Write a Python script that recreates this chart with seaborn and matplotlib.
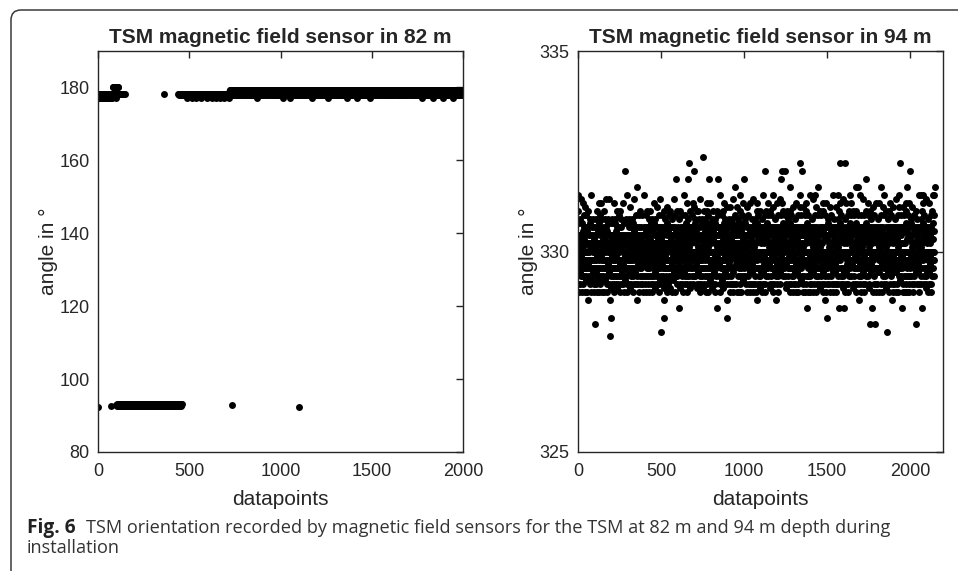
import numpy as np
import pandas as pd
import seaborn as sns
import matplotlib.pyplot as plt
from matplotlib.patches import FancyBboxPatch
from matplotlib.transforms import IdentityTransform

# angle readings are quantized, every datapoint is stored as one code letter
left_codes = "ABCDabcdeg"
left_levels = [92.4, 92.7, 93.0, 93.2, 177.0, 177.8, 178.3, 178.8, 179.3, 180.2]

right_codes = "abcdefghijklmnopqrstuvwxGHIJKLMNOPQR"
right_levels = [327.9, 328.0, 328.2, 328.35, 328.6, 328.8, 329.0, 329.2,
                329.4, 329.6, 329.8, 330.0, 330.2, 330.4, 330.6, 330.8,
                331.0, 331.2, 331.4, 331.6, 331.8, 332.0, 332.2, 332.35,
                329.1, 329.3, 329.5, 329.7, 329.9, 330.1, 330.3, 330.5,
                330.7, 330.9, 331.1, 331.3]

# sensor in 82 m, datapoints 0..1999 (100 per row)
left_rows = [
    ("Acacbccacb" "ccacbccbca" "cbccacccbc" "acbccacbcc" "bcaccbccac"
     "cbcacbccca" "ccbcacbccb" "Bcacbccacc" "bcgcgcbcgc" "cgcbgccgca"),
    ("gCcBgDcCgB" "cDgCcBcDCc" "BCcDCBcCDc" "CBDcCBDCcB" "DCBcCDBCcD"
     "CBDCBCDCBC" "DBCCDBCDCB" "CDBCCDCBCD" "BCCDCBDCCB" "CDCBCCDBCC"),
    ("DCBCCDCBCD" "CCBDCCDCBC" "CDBCCDCBCD" "CCBDCCDCBC" "CDBCCDCBCD"
     "BCCDCBDCCB" "CDCBCCDBCC" "DCBCCDCBCD" "CCBDCCDCBC" "CDBCCDCBCD"),
    ("BCCDCBDCCB" "CDCBCCDBCC" "DCBCCDCBCD" "CCBDCCDCBC" "CDBCCDCBCD"
     "BCCDCBDCCB" "CDcBCCDBCC" "DCBCCDCBCD" "CCBDCCDCBC" "CDBCCDCBCD"),
    ("BCCDCBDCCB" "CDCBCCDBCC" "DCBCCDCBCD" "CCBDCCDCBC" "cCbDcBcCcD"
     "bCcBcDcCbc" "Dcbccbcbcc" "bcbcccbccb" "cbccbcacbc" "cbcbccbcbc"),
    ("bccbcbccbc" "cbcbcacbcc" "bccbcbcbcc" "cbccbcbcca" "bcbccbcbcc"
     "cbcbccbcbc" "bccbcbcacb" "ccbcbccbcb" "cbcbccbcbc" "bccbcacbcc"),
    ("cbcbccbcbc" "bccbcbccbc" "cbcacbcbcc" "bcbccbcbcc" "cbccbcbcac"
     "bcbccbcbcc" "cbcbccbcbc" "acbccbcbcc" "bcbcbccbca" "cbccbcbcbc"),
    ("cbcbccbcbc" "bccbcbcacb" "dcedbcedcd" "ecdCedbdce" "dbecdcebdc"
     "edcbdecdce" "bdcedcbedc" "deccdbedec" "cdebdcedbd" "ecdbedcdec"),
    ("cedbdceced" "dcedbcedcd" "dbecdcebdc" "bdcedcbedc" "ecdbedbdce"
     "cdebdcedbd" "ecdbedcdea" "edcbdecdce" "dbcedecbde" "deccdbedec"),
    ("ecdbedbdce" "deccdbedec" "dcedbcedcd" "ecdbedcdec" "edcbdecdce"
     "cedbdceced" "dbecdcebdc" "dbcedecbde" "bdcedcbedc" "cdebdcedbd"),
    ("deccdbedec" "cdebdcadbd" "dbecdcebdc" "dcedbcedcd" "cedbdceced"
     "edabdecdce" "ecdbedbdce" "dbcedecbde" "ecdbedcdec" "bdcedcbedc"),
    ("Acedbcedcd" "edcbdecdce" "cdebdcedbd" "ecdbedbdce" "dbcedecbde"
     "deccdbedec" "cedbdceced" "eadbedcdec" "dbecdcebdc" "dcedbcedcd"),
    ("ecdbedcdec" "dbecdcebdc" "dbcedecbde" "bdcedcbedc" "dcedbcedcd"
     "ecdbedbdce" "deacdbedec" "cedbdceced" "edcbdecdce" "cdebdcedbd"),
    ("bdcedcbedc" "cedbdceced" "ecdbedbdce" "deccdbedec" "dbecdcebdc"
     "edcbdecdce" "dceabcedcd" "cdebdcedbd" "dbcedecbde" "dcedbcedcd"),
    ("dcedbcedcd" "ecdbedbace" "edcbdecdce" "ecdbedcdec" "bdcedcbedc"
     "dbcedecbde" "dbecdcebdc" "cedbdceced" "deccdbedec" "adebdcedbd"),
    ("dbecdcebdc" "cdebdcedbd" "dcedbcedcd" "cedbdceced" "deccdbedec"
     "ecdbedcdec" "ecdbedbdce" "bdcedcbedc" "dbcedecbde" "edcbdecdce"),
    ("dbcedecbde" "ecdbedbdce" "ecdbedcdec" "edcbdecdce" "cdebdcedbd"
     "dcedbcedcd" "bdcedcbedc" "deccdbedec" "dbecdcebdc" "cedbdceced"),
    ("deccdbedec" "edcbdecdce" "cedbdceced" "dbecdcebdc" "ecdbedcdec"
     "dbcedecbde" "dcedbcedcd" "bdceacbedc" "cdebdcedbd" "ecdbedbdce"),
    ("cdebdcedbd" "dcedbcedcd" "bdcedcbedc" "edcbdecace" "ecdbedbdce"
     "cedbdceced" "deccdbedec" "dbecdcebdc" "ecdbedcdec" "dbaedecbde"),
    ("edcbdecdce" "dbcedecbde" "dbecdcebdc" "dcedbcedcd" "cdebdceabd"
     "bdcedcbedc" "cedbdceced" "ecdbedbdce" "ecdbedcdec" "deccdbedec"),
]

# sensor in 94 m, datapoints 0..2149 (100 per row)
right_rows = [
    ("sqKhLmjOng" "kIlpMhjRKn" "ilOmgJkmrL" "hiNkjPolMi" "kgnQjlmHko"
     "iPljmNkgfo" "lqJmknHlij" "pOmkhLnjgi" "msoLkjHnmp" "lIokjMhlgn"),
    ("kjLcmoIhnk" "pLjgmKqiNo" "jlHmkrOigl" "nKjmPhlrKi" "moLgjNkplH"
     "iknMjoLgqk" "lHpjnMkiRo" "jLmkhNgiOl" "kpJmlInhRk" "afmLkjOniG"),
    ("dlKnjMhpOi" "kmLjgnrhlk" "jOmiLkpNhj" "mlKqiGonLj" "hkMnljPiok"
     "lgmJnkqLhi" "oMpkjLnImh" "kJlrnMgiOk" "lmjHvnKpli" "nKmjOlhsgk"),
    ("jnLmkIophL" "mkGjnlQkio" "lhMnjKpmLi" "kOjlgNmhRK" "nlImjKolPh"
     "jMkfnLiotk" "LmhJnkgPom" "kiLnjMqhlK" "oMjlKinPhg" "lKnmJosiLk"),
    ("mJlhKonPil" "kNgmLjqKoi" "hlMjnKpoLg" "jkMiqNlhOk" "lnJmgKpiLo"
     "mKjlNhrOki" "jLmkGnpIol" "nKhmJloQki" "lMjnKigPoh" "kLjmNoRHil"),
    ("bkMlnJhoPk" "jLmnKiqGlo" "dfKmjNlpHi" "mLkjOgnQlk" "hNjmLkiPom"
     "kLjnGmqHok" "lMikJnpLgo" "jKmlHnRIok" "mLjnKgoPil" "ukNmjLqhKi"),
    ("lMjnKoeIpl" "kJmlNhqGok" "mLjnKiPohL" "jKmlNgsIok" "lMhjNkPilO"
     "kJmLnigroh" "ulMjnKpLoi" "wkJmlNqhGo" "lKmjNiPolk" "jMlnKhrQio"),
    ("vlMjnKiOpl" "kJmlNhqGok" "nLkjMqIphL" "jMknLgoRik" "lhMjKnpOli"
     "kmLjnxGqoh" "lMjkNipOlg" "jKnmLhqrOi" "mLkjNgPoil" "ukNljMrHki"),
    ("lJmknOipGl" "kMjlNhqIok" "nJlmKgpOhl" "jmKinLqoeK" "lmJknuPilo"
     "kJnmLhgsok" "mLkjNiPolH" "jkMlnGqrOk" "lMhjKnpIlo" "kNjmLifQoh"),
    ("dlMjnKiOpl" "kJmLnhQgok" "lMjnKipOhm" "jKmlNgRIol" "mLhjKnPtlo"
     "kJnmLhgQok" "lJmkNipOlg" "jKnmLhqsOi" "mLkjNgPoil" "kJnlMorHki"),
    ("ulMjnKiOpl" "kJnLmhQgok" "mLjnKiPohl" "jKmlNgrIok" "lMhjKnpIlo"
     "kJnmLhgRok" "mLjkNipOlh" "jKmlNgqrOk" "flMhjKnPio" "lKnjMiGqoh"),
    ("lKjmNoIpgl" "kMjlNhsIok" "nJlmKgPohl" "vMkiNlqOjk" "lMjkNrPilo"
     "kJnmLhGqok" "mLkjNiPolh" "jKmLngQsok" "lMhjKnpIlo" "kNjmLifroh"),
    ("lJmkNoiPgl" "kMjLnhRIok" "nJlmKuPorL" "vMkiNlqOjk" "lMjknvPiLo"
     "kJnmLhGqok" "mLkjNipOlh" "jKmlNgqtOk" "lMhjKnPilo" "kNjmLigQoh"),
    ("mKjlNhoIpl" "lJnkMgrIok" "kMlnJhPogl" "jLkmNisQok" "wmHjlKnPio"
     "vkJmnLgQoh" "lJmkNiPlog" "kJlmNhqrOi" "elMkjNgPio" "kJnlMoshgi"),
    ("lKmjNhIopl" "jMknLgRIok" "mLjnKhPosl" "kJmlNgQiok" "lMhjKntPil"
     "jKnmLhGqok" "mLjkNiPolh" "kJmlNgqIro" "lMhkJnPilo" "fKnjMlgroh"),
    ("dlMjnKiOpl" "kJnLmhQgok" "mLkjNiPohl" "jKmlNgsIok" "lMhjKnpIlo"
     "kJnmLhgQok" "mLjkNipsLh" "jKmlNeqrOk" "wlMhjKnPio" "lKnjMiGRoh"),
    ("lKjmNeIpgl" "wMjlNhrIok" "nJlmKgPohl" "jMkiNlqOsk" "lMjkNrPilo"
     "kJnmLhGqok" "mLkjNiPolh" "jKmlNgqtOk" "lMhjKnPtlo" "kNjmLifsoh"),
    ("lJmkNoiPgl" "kMjLnhRIok" "nJlmKgPohl" "jMkiNlqOuk" "lMjkNrPilo"
     "kJnmLhGqok" "cMlkJnIpol" "ejKmlNgQok" "lMhjKnPilo" "cKnjMlgroh"),
    ("lKmjNhIopl" "jMknLgrIok" "mLjnKhPotl" "kJmlNgQiok" "lMhjKnsPil"
     "jKnmLhGqok" "bMljKnIpol" "kJmlNgqIro" "lMhkJnPilo" "fKnjMlgQoh"),
    ("mKjlNhoIpl" "lJnkMgRIok" "kMlnJhPogl" "jLkmNisQok" "wmHjlKnPio"
     "eKjmNlgQoh" "lJmkNiPlog" "kJlmNhqrOi" "tlMkjNgPio" "kJnlMorhgi"),
    ("vlMjnKiOpl" "kJnLmhQgok" "mLkjNiPohl" "jKmlNcqIok" "lMhjKnpIlo"
     "kJnmLhgsok" "mLjkNipsLh" "jKmlNeqrOk" "slMhjKnPio" "lKnjMiGRoh"),
    ("lKjmNoIpgl" "kMjlNhrIok" "nJlmKgPohl" "jMkiNlqOsk" "lMjsNkPilt"),
]

titles = ["TSM magnetic field sensor in 82 m", "TSM magnetic field sensor in 94 m"]
left_ylim, left_yticks = (80, 190), [80, 100, 120, 140, 160, 180]
right_ylim, right_yticks = (325, 335), [325, 330, 335]
left_xlim, right_xlim = (0, 2000), (0, 2200)
xticks = [0, 500, 1000, 1500, 2000]
caption_bold = "Fig. 6"
caption_text = "TSM orientation recorded by magnetic field sensors for the TSM at 82 m and 94 m depth during"
caption_text2 = "installation"


def decode(rows, codes, levels):
    lut = dict(zip(codes, levels))
    vals = [lut[ch] for ch in "".join(rows)]
    return pd.DataFrame({"datapoints": np.arange(len(vals)), "angle": vals})


left_df = decode(left_rows, left_codes, left_levels)
right_df = decode(right_rows, right_codes, right_levels)

sns.set_style("white")
plt.rcParams["font.family"] = ["Liberation Sans", "DejaVu Sans"]

W, H = 958, 571
fig = plt.figure(figsize=(W / 100, H / 100), dpi=100)
ax1 = fig.add_axes([98 / W, 1 - 452 / H, 365 / W, 401 / H])
ax2 = fig.add_axes([578 / W, 1 - 452 / H, 365 / W, 401 / H])

setups = [
    (ax1, left_df, titles[0], left_xlim, left_ylim, left_yticks),
    (ax2, right_df, titles[1], right_xlim, right_ylim, right_yticks),
]
for ax, df, title, xlim, ylim, yticks in setups:
    sns.scatterplot(data=df, x="datapoints", y="angle", ax=ax, color="black",
                    s=25, linewidth=0, legend=False)
    ax.set_xlim(*xlim)
    ax.set_ylim(*ylim)
    ax.set_xticks(xticks)
    ax.set_yticks(yticks)
    ax.set_title(title, fontsize=15, fontweight="bold", pad=6)
    ax.set_xlabel("datapoints", fontsize=15, labelpad=7)
    ax.set_ylabel("angle in °", fontsize=15, labelpad=1)
    ax.tick_params(axis="x", pad=8)
    ax.tick_params(direction="in", length=5, width=1, top=True, right=True,
                   labelsize=13, color="#262626", labelcolor="#262626")
    ax.tick_params(axis="y", pad=6)
    for sp in ax.spines.values():
        sp.set_visible(True)
        sp.set_color("#262626")
        sp.set_linewidth(1.0)

# journal figure frame, rounded at the top-left corner
frame = FancyBboxPatch((11, -30), 1000, H - 10 + 30,
                       boxstyle="round,pad=0,rounding_size=10",
                       transform=IdentityTransform(), fill=False,
                       edgecolor="#3a3a3a", linewidth=1.1)
fig.patches.append(frame)

cap_font = ["Open Sans", "DejaVu Sans"]
fig.text(27 / W, 1 - 533 / H, caption_bold, fontsize=13.8, fontweight="bold",
         family=cap_font, color="#222222", va="baseline")
fig.text(86 / W, 1 - 533 / H, caption_text, fontsize=13.1,
         family=cap_font, color="#333333", va="baseline")
fig.text(27 / W, 1 - 553 / H, caption_text2, fontsize=13.1,
         family=cap_font, color="#333333", va="baseline")

fig.savefig("out.png", dpi=100)
